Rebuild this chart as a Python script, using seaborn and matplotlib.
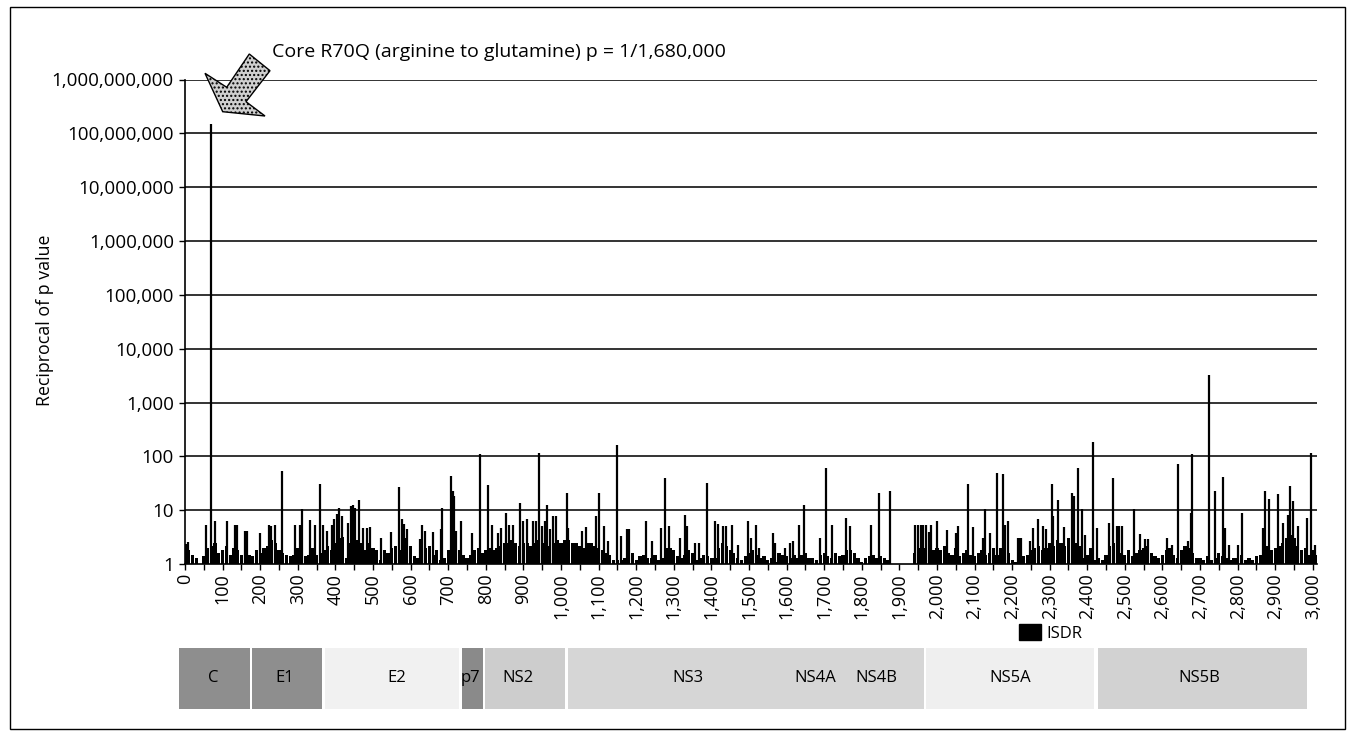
import numpy as np
import pandas as pd
import matplotlib
matplotlib.use("Agg")
import matplotlib.pyplot as plt
import seaborn as sns
from matplotlib.patches import Polygon, Rectangle, Patch
from matplotlib.ticker import FixedLocator, FuncFormatter, NullLocator

# ---------------- data ----------------
# dense background level, one value per 10-residue bin (0 .. 3010)
floor_values = [
    2.4, 1.8, 1.5, 1.3, 1.0, 1.4, 2.0, 2.2, 2.5, 1.6,
    1.8, 2.2, 1.5, 2.0, 1.8, 1.5, 1.6, 1.5, 1.4, 1.8,
    1.6, 2.0, 2.2, 2.8, 2.5, 1.8, 1.6, 1.5, 1.4, 1.5,
    2.0, 1.8, 1.4, 1.5, 2.0, 1.5, 1.6, 1.8, 2.2, 1.8,
    2.5, 3.0, 3.2, 1.3, 2.5, 3.0, 2.8, 2.5, 1.8, 2.5,
    2.0, 1.8, 1.2, 1.8, 1.6, 2.0, 2.2, 1.8, 2.5, 3.0,
    2.2, 1.4, 1.3, 1.6, 2.0, 2.2, 1.5, 1.8, 1.2, 1.3,
    1.8, 2.5, 3.0, 1.8, 1.5, 1.3, 1.5, 1.8, 2.0, 1.6,
    1.8, 2.0, 1.8, 2.0, 2.2, 2.5, 2.5, 2.8, 2.5, 2.2,
    2.5, 2.5, 2.2, 2.5, 2.8, 2.5, 2.5, 2.2, 2.5, 2.8,
    2.5, 2.8, 2.8, 2.5, 2.5, 2.2, 2.0, 2.5, 2.5, 2.2,
    2.0, 1.8, 1.6, 1.5, 1.2, 1.2, 1.2, 1.3, 1.8, 1.6,
    1.2, 1.4, 1.5, 1.3, 1.3, 1.5, 1.2, 1.3, 2.0, 2.0,
    1.8, 1.4, 1.3, 1.5, 1.8, 1.6, 1.2, 1.3, 1.5, 1.4,
    1.3, 1.3, 2.0, 2.5, 2.2, 1.8, 1.6, 1.3, 1.2, 1.4,
    1.6, 1.8, 1.5, 1.3, 1.4, 1.2, 1.3, 1.1, 1.6, 1.5,
    1.4, 1.3, 1.5, 1.3, 1.5, 1.6, 1.3, 1.3, 1.2, 1.5,
    1.6, 1.4, 1.3, 1.6, 1.4, 1.5, 1.8, 1.8, 1.6, 1.3,
    1.1, 1.3, 1.4, 1.5, 1.3, 1.4, 1.3, 1.2, 1.0, 1.0,
    1.0, 1.0, 1.0, 1.0, 1.6, 2.0, 2.2, 2.0, 1.8, 1.8,
    2.0, 1.8, 2.2, 1.6, 1.5, 2.0, 1.4, 1.6, 1.8, 1.5,
    1.4, 1.6, 1.8, 1.5, 1.6, 2.0, 1.5, 2.0, 2.2, 1.6,
    1.2, 1.1, 1.6, 1.4, 1.5, 1.8, 2.0, 2.2, 1.8, 2.0,
    2.5, 2.2, 2.8, 2.5, 2.2, 3.0, 3.2, 2.5, 2.2, 1.3,
    1.5, 2.0, 1.2, 1.3, 1.2, 1.5, 2.2, 2.5, 2.0, 1.6,
    1.5, 1.8, 1.4, 1.6, 1.8, 2.0, 2.2, 1.6, 1.4, 1.3,
    1.5, 1.8, 2.0, 1.5, 1.3, 1.8, 2.2, 2.0, 1.6, 1.3,
    1.3, 1.2, 1.4, 1.2, 1.3, 1.6, 1.4, 1.3, 1.2, 1.3,
    1.3, 1.5, 1.2, 1.3, 1.2, 1.4, 1.5, 1.6, 2.2, 1.8,
    2.0, 2.2, 2.5, 3.0, 3.5, 3.0, 2.2, 1.8, 2.0, 1.5,
    1.8, 1.5,
]
bin_step = 10

# individual positions standing out above the background
spike_pos = [
    8, 55, 70, 80, 111, 133, 139, 160, 164, 199, 224, 229, 239, 257, 293, 306, 312,
    332, 346, 359, 366, 379, 390, 395, 403, 409, 417, 434, 441, 448, 452, 464, 474,
    484, 492, 521, 547, 570, 576, 583, 590, 625, 631, 638, 660, 681, 684, 707, 712,
    716, 720, 734, 764, 785, 805, 816, 832, 840, 853, 862, 873, 891, 900, 911, 926,
    933, 942, 949, 957, 962, 971, 980, 987, 1015, 1019, 1055, 1066, 1092, 1102,
    1114, 1126, 1148, 1161, 1176, 1182, 1225, 1241, 1265, 1277, 1288, 1316, 1330,
    1334, 1356, 1368, 1389, 1410, 1417, 1432, 1439, 1454, 1472, 1498, 1505, 1519,
    1527, 1563, 1570, 1597, 1608, 1618, 1634, 1647, 1689, 1705, 1720, 1758, 1769,
    1826, 1846, 1875, 1943, 1950, 1957, 1963, 1970, 1978, 1985, 1999, 2026, 2051,
    2057, 2083, 2097, 2123, 2129, 2141, 2161, 2175, 2181, 2190, 2216, 2221, 2225,
    2247, 2256, 2270, 2283, 2290, 2305, 2309, 2323, 2338, 2358, 2364, 2376, 2387,
    2394, 2416, 2427, 2458, 2469, 2478, 2485, 2492, 2525, 2540, 2553, 2562, 2611,
    2624, 2640, 2667, 2676, 2679, 2724, 2739, 2762, 2766, 2778, 2800, 2812, 2868,
    2872, 2884, 2908, 2921, 2934, 2940, 2948, 2961, 2984, 2996, 3006,
]
spike_val = [
    2.6, 5.4, 1.5e8, 6.2, 6.2, 5.3, 5.3, 4.1, 4.1, 3.8, 5.4, 5.0, 5.4, 54, 5.4, 5.4, 10.7,
    6.7, 5.4, 30, 5.4, 4.1, 5.4, 7.0, 8.5, 11, 7.7, 5.8, 11.9, 12.7, 11, 15.7, 4.7,
    4.7, 4.8, 3.1, 4.0, 26.7, 7.0, 5.5, 4.5, 2.9, 5.4, 4.1, 4.0, 4.4, 11, 42.6, 23,
    18, 4.1, 6.4, 3.8, 110, 29, 5.3, 3.8, 4.6, 8.9, 5.4, 5.4, 13.7, 6.2, 7.0, 6.2,
    6.2, 113, 5.0, 6.2, 12.7, 4.4, 7.7, 7.7, 21, 4.7, 4.1, 4.8, 7.7, 21,
    5.0, 2.7, 165, 3.3, 4.4, 4.4, 6.2, 2.7, 4.6, 40, 5.0, 3.1, 8.3,
    5.0, 2.5, 2.5, 32, 6.2, 5.5, 5.0, 5.0, 5.3, 2.3, 6.2, 3.1, 5.3,
    2.0, 3.8, 2.5, 2.0, 2.5, 2.7, 5.3, 12.4, 3.1, 61, 5.3, 7.2, 5.0,
    5.3, 21, 23, 5.3, 5.3, 5.3, 5.3, 5.3, 4.0, 5.3, 6.2, 4.2, 3.8,
    5.0, 31, 4.8, 3.0, 10.6, 3.8, 48, 46, 5.4, 6.2, 3.0, 3.0, 3.0,
    2.7, 4.7, 6.9, 5.0, 4.4, 31, 7.7, 15.7, 4.8, 21, 18, 61, 10.7,
    3.5, 184, 4.7, 5.8, 40, 5.0, 5.0, 5.0, 10.6, 3.6, 2.9, 2.9, 3.1,
    2.3, 72, 2.7, 8.9, 110, 3300, 23, 41, 4.7, 2.3, 2.3, 8.9, 4.7,
    22.5, 16.4, 20, 5.8, 8.3, 28.6, 15, 5.0, 7.2, 115, 2.3,
]

y_tick_values = [1, 10, 100, 1_000, 10_000, 100_000, 1_000_000, 10_000_000,
                 100_000_000, 1_000_000_000]
x_label_values = list(range(0, 3001, 100))
x_max = 3011

# genome map (residue coordinates)
box_start = [-15, 178, 372, 737, 799, 1019, 1972, 2428]
box_end = [172, 364, 730, 793, 1011, 1965, 2419, 2984]
box_color = ["#8e8e8e", "#8e8e8e", "#f1f1f1", "#8a8a8a", "#cdcdcd", "#d6d6d6",
             "#efefef", "#d2d2d2"]
gene_names = ["C", "E1", "E2", "p7", "NS2", "NS3", "NS4A", "NS4B", "NS5A", "NS5B"]
gene_label_pos = [74, 266, 564, 758, 886, 1338, 1676, 1840, 2194, 2699]

annotation = "Core R70Q (arginine to glutamine) p = 1/1,680,000"
y_title = "Reciprocal of p value"
legend_label = "ISDR"

# ---------------- figure ----------------
W, H = 1354, 736
sns.set_theme(style="white")
plt.rcParams["font.family"] = ["Open Sans", "DejaVu Sans"]
plt.rcParams["text.color"] = "black"
plt.rcParams["legend.labelcolor"] = "black"
FS_Y = 13.5
FS_X = 13
FS_GENE = 12

fig = plt.figure(figsize=(W / 100, H / 100), dpi=100)


def fx(px):
    return px / W


def fy(py):
    return 1 - py / H


ax_l, ax_r, ax_t, ax_b = 185, 1317, 79.5, 564
ax = fig.add_axes([fx(ax_l), fy(ax_b), fx(ax_r) - fx(ax_l), fy(ax_t) - fy(ax_b)])
ax.set_yscale("log")

df_floor = pd.DataFrame({
    "pos": np.arange(len(floor_values)) * bin_step,
    "val": floor_values,
})
sns.barplot(data=df_floor, x="pos", y="val", native_scale=True, width=0.85,
            color="black", saturation=1, errorbar=None, linewidth=0, ax=ax)

ax.vlines(spike_pos, 1, spike_val, color="black", lw=1.6, zorder=3)

ax.set_xlim(0, x_max)
ax.set_ylim(1, 1e9)

ax.yaxis.set_major_locator(FixedLocator(y_tick_values))
ax.yaxis.set_minor_locator(NullLocator())
ax.yaxis.set_major_formatter(FuncFormatter(lambda v, _: f"{int(round(v)):,}"))
ax.grid(False)
for v in y_tick_values[1:]:
    ax.axhline(v, color="#111111", lw=1.2, zorder=1)

ax.xaxis.set_major_locator(FixedLocator(x_label_values))
ax.xaxis.set_minor_locator(FixedLocator([v + 50 for v in x_label_values[:-1]]))
ax.xaxis.set_major_formatter(FuncFormatter(lambda v, _: f"{int(round(v)):,}"))
ax.set_xlabel("")
ax.set_ylabel("")

ax.tick_params(axis="x", which="both", direction="out", length=4, width=1,
               color="black", bottom=True, labelsize=FS_X, pad=3, labelrotation=90,
               labelcolor="black")
ax.tick_params(axis="y", which="major", direction="out", length=4, width=1,
               color="black", left=True, labelsize=FS_Y, pad=4, labelcolor="black")
for side in ["top", "right"]:
    ax.spines[side].set_visible(False)
for side in ["left", "bottom"]:
    ax.spines[side].set_color("black")
    ax.spines[side].set_linewidth(1.2)

# y title
fig.text(fx(45), fy(320), y_title, rotation=90, ha="center", va="center",
         fontsize=12.8, color="black")

# annotation text and block arrow
fig.text(fx(272), fy(52), annotation, ha="left", va="center", fontsize=14,
         color="black")
arrow_px = [(249.3, 54.0), (270.0, 70.7), (246.0, 101.7), (265.0, 116.0),
            (222.7, 111.7), (205.0, 73.3), (226.7, 87.3)]
arrow = Polygon([(fx(x), fy(y)) for x, y in arrow_px], closed=True,
                transform=fig.transFigure, facecolor="#cfcfcf", edgecolor="black",
                lw=1.0, hatch="....", zorder=10)
fig.patches.append(arrow)

# genome map
gax = fig.add_axes([fx(ax_l), fy(709), fx(ax_r) - fx(ax_l), fy(648) - fy(709)])
gax.set_xlim(0, x_max)
gax.set_ylim(0, 1)
gax.axis("off")
for s, e, c in zip(box_start, box_end, box_color):
    gax.add_patch(Rectangle((s, 0), e - s, 1, facecolor=c, edgecolor="none",
                            clip_on=False))
for name, p in zip(gene_names, gene_label_pos):
    gax.text(p, 0.5, name, ha="center", va="center", fontsize=FS_GENE,
             color="black", clip_on=False)

# legend
fig.legend(handles=[Patch(facecolor="black", edgecolor="black")], labels=[legend_label],
           loc="center left", bbox_to_anchor=(fx(1011), fy(633)), frameon=False,
           fontsize=FS_GENE, handlelength=1.3, handleheight=1.05, borderpad=0,
           handletextpad=0.3, labelcolor="black")

# outer frame
fig.patches.append(Rectangle((fx(10), fy(729)), fx(1345) - fx(10), fy(7) - fy(729),
                             transform=fig.transFigure, fill=False,
                             edgecolor="black", lw=1.0))

fig.savefig("out.png", dpi=100)
